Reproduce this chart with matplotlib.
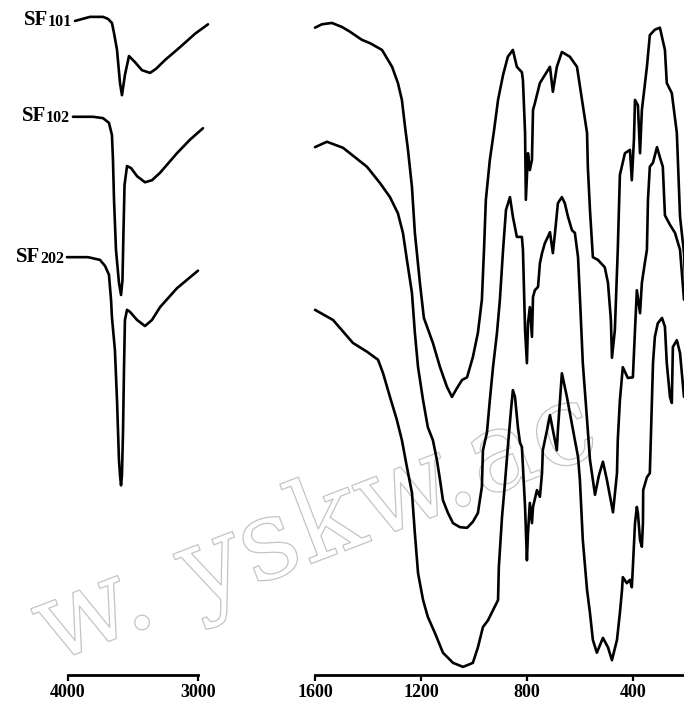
import matplotlib
matplotlib.use("Agg")
import matplotlib.pyplot as plt
import matplotlib.patheffects as pe

# ---------------- data: O-H stretching region (cm-1, transmittance %, offset) -------------
sf101_oh_wn = [3946, 3831, 3731, 3692, 3662, 3646, 3623, 3600, 3585, 3562, 3531, 3485, 3431,
               3369, 3323, 3254, 3139, 3023, 2923]
sf101_oh_t = [96.9, 97.5, 97.5, 97.2, 96.6, 95.1, 92.6, 87.7, 85.9, 88.9, 91.7, 90.8, 89.6,
              89.2, 89.8, 91.1, 93.0, 95.0, 96.4]

sf102_oh_wn = [3962, 3808, 3731, 3685, 3662, 3654, 3646, 3631, 3608, 3592, 3581, 3573, 3565,
               3546, 3515, 3469, 3408, 3354, 3292, 3162, 3062, 2962]
sf102_oh_t = [82.7, 82.7, 82.5, 81.8, 80.0, 76.3, 70.4, 63.0, 58.1, 56.3, 58.5, 65.9, 72.6,
              75.4, 75.1, 73.9, 73.0, 73.3, 74.4, 77.3, 79.3, 81.0]

sf202_oh_wn = [4008, 3846, 3754, 3715, 3685, 3669, 3662, 3639, 3623, 3608, 3600, 3592, 3585,
               3577, 3569, 3562, 3546, 3523, 3469, 3408, 3354, 3292, 3162, 3000]
sf202_oh_t = [61.9, 61.9, 61.5, 60.6, 59.3, 55.6, 53.0, 48.1, 40.7, 31.9, 29.6, 28.1, 29.6,
              35.9, 45.6, 52.6, 54.1, 53.8, 52.6, 51.7, 52.6, 54.5, 57.3, 59.9]

# ---------------- data: 1600-200 cm-1 region ----------------
sf101_wn = [1600, 1574, 1536, 1498, 1468, 1423, 1392, 1347, 1309, 1287,
            1272, 1260, 1249, 1234, 1223, 1204, 1189, 1177, 1155, 1128,
            1102, 1083, 1064, 1045, 1026, 1004, 985, 970, 962, 955,
            940, 924, 909, 890, 872, 853, 838, 819, 815, 807,
            804, 796, 789, 781, 777, 770, 751, 713, 702, 687,
            668, 638, 611, 592, 573, 570, 562, 551, 532, 506,
            494, 483, 479, 468, 457, 449, 430, 411, 404, 396,
            392, 381, 373, 366, 347, 336, 317, 298, 279, 272,
            253, 234, 222, 207, 200]
sf101_t = [95.9, 96.4, 96.6, 96.0, 95.3, 94.1, 93.6, 92.6, 90.1, 87.7,
           85.2, 81.2, 77.8, 72.3, 65.5, 58.1, 52.9, 51.6, 49.2, 45.6,
           42.7, 41.2, 42.5, 43.7, 44.1, 47.1, 50.7, 55.6, 63.0, 70.4,
           76.3, 80.7, 85.2, 88.9, 91.6, 92.6, 90.1, 89.3, 88.1, 80.3,
           70.4, 77.3, 74.8, 76.3, 83.7, 84.7, 87.7, 90.1, 86.4, 90.1,
           92.3, 91.6, 90.1, 85.2, 80.3, 75.3, 68.9, 61.9, 61.5, 60.4,
           58.1, 52.6, 47.0, 51.1, 63.0, 74.1, 77.3, 77.8, 73.3, 79.3,
           85.2, 84.4, 77.3, 83.7, 90.1, 94.8, 95.6, 95.9, 92.6, 87.7,
           86.2, 80.3, 67.9, 62.5, 55.6]

sf102_wn = [1600, 1555, 1494, 1449, 1404, 1355, 1317, 1287, 1268, 1253,
            1234, 1223, 1211, 1192, 1174, 1155, 1140, 1128, 1117, 1098,
            1079, 1053, 1026, 1004, 985, 970, 966, 951, 940, 928,
            913, 902, 890, 879, 864, 853, 838, 819, 815, 807,
            800, 796, 789, 781, 777, 770, 758, 751, 743, 732,
            721, 713, 702, 694, 683, 668, 657, 645, 630, 619,
            607, 600, 589, 573, 562, 543, 528, 513, 498, 475,
            460, 457, 449, 438, 419, 400, 392, 385, 373, 366,
            355, 347, 343, 336, 324, 309, 298, 287, 279, 260,
            241, 222, 207]
sf102_t = [78.2, 79.0, 78.1, 76.7, 75.3, 72.9, 70.8, 68.4, 65.5, 61.5,
           56.6, 50.7, 45.6, 40.7, 36.7, 34.8, 31.9, 28.9, 25.9, 24.0,
           22.5, 21.9, 21.8, 22.7, 24.0, 27.9, 33.3, 35.9, 40.7, 45.6,
           50.7, 55.6, 63.0, 68.9, 70.8, 67.9, 64.9, 64.9, 63.0, 51.1,
           46.2, 52.1, 54.5, 50.1, 56.0, 57.0, 57.5, 61.0, 62.5, 64.0,
           64.9, 65.6, 62.5, 65.5, 69.9, 70.8, 69.9, 67.9, 65.9, 65.5,
           61.9, 56.0, 46.2, 37.8, 31.9, 26.7, 29.6, 31.6, 28.9, 24.1,
           29.9, 34.8, 40.7, 45.6, 44.0, 44.1, 51.1, 57.0, 53.6, 58.1,
           61.0, 63.0, 70.4, 75.3, 75.9, 78.2, 76.7, 75.3, 68.1, 66.7,
           65.5, 63.0, 55.6]

sf202_wn = [1600, 1532, 1457, 1404, 1362, 1343, 1317, 1291, 1272, 1253,
            1234, 1223, 1211, 1192, 1174, 1147, 1117, 1079, 1041, 1004,
            985, 966, 947, 928, 909, 906, 894, 883, 872, 860,
            853, 845, 834, 826, 819, 807, 800, 796, 789, 781,
            777, 762, 751, 743, 740, 724, 713, 702, 687, 683,
            668, 649, 626, 607, 600, 589, 573, 562, 551, 536,
            513, 494, 479, 460, 449, 441, 438, 423, 411, 404,
            400, 392, 385, 381, 373, 366, 362, 361, 347, 336,
            324, 317, 306, 290, 279, 272, 260, 253, 249, 234,
            222, 207]
sf202_t = [54.1, 52.6, 49.2, 47.9, 46.7, 44.7, 41.2, 37.8, 34.8, 30.8,
           27.0, 21.0, 15.1, 11.1, 8.6, 6.2, 3.3, 1.8, 1.2, 1.8,
           4.1, 7.1, 8.1, 9.6, 11.1, 16.0, 23.4, 28.4, 33.8, 39.3,
           42.2, 41.2, 36.7, 34.4, 33.8, 24.9, 17.0, 21.0, 25.5, 22.5,
           24.9, 27.4, 26.4, 29.9, 33.3, 36.3, 38.5, 36.3, 33.3, 36.3,
           44.7, 41.2, 36.3, 32.3, 28.9, 20.0, 12.6, 9.2, 5.2, 3.3,
           5.5, 4.1, 2.2, 5.2, 9.2, 12.6, 14.5, 13.6, 14.1, 13.0,
           16.0, 22.5, 24.9, 24.0, 20.0, 19.0, 22.5, 27.4, 29.3, 29.9,
           46.2, 50.1, 52.1, 52.9, 51.6, 46.2, 41.2, 40.3, 48.6, 49.6,
           47.7, 41.2]

sample_numbers = ["101", "102", "202"]
left_ticks = [4000, 3000]
right_ticks = [1600, 1200, 800, 400]
watermark = "w. yskw.ac"

# ---------------- layout ----------------
W, H = 684, 704
fig = plt.figure(figsize=(W / 100, H / 100), dpi=100)
fig.patch.set_facecolor("white")


def rect(x0, x1, ybot=675):
    return [x0 / W, (H - ybot) / H, (x1 - x0) / W, ybot / H]


ax_l = fig.add_axes(rect(68, 198))
ax_r = fig.add_axes(rect(315, 684))
ax_l.set_xlim(4000, 3000)
ax_r.set_xlim(1600, 207)

serif = "Liberation Serif"
for ax, ticks in [(ax_l, left_ticks), (ax_r, right_ticks)]:
    ax.set_ylim(0, 100)
    ax.patch.set_visible(False)
    for s in ["left", "right", "top"]:
        ax.spines[s].set_visible(False)
    ax.spines["bottom"].set_linewidth(2.0)
    ax.set_yticks([])
    ax.set_xticks(ticks)
    ax.set_xticklabels([str(t) for t in ticks])
    ax.tick_params(axis="x", direction="out", length=4, width=1.6, pad=2.5,
                   labelsize=13)
    for lab in ax.get_xticklabels():
        lab.set_fontfamily(serif)
        lab.set_fontweight("bold")

line_kw = dict(color="black", lw=1.9, clip_on=False,
               solid_joinstyle="round", solid_capstyle="round", zorder=3)

for wn, t in [(sf101_oh_wn, sf101_oh_t), (sf102_oh_wn, sf102_oh_t), (sf202_oh_wn, sf202_oh_t)]:
    ax_l.plot(wn, t, **line_kw)
for wn, t in [(sf101_wn, sf101_t), (sf102_wn, sf102_t), (sf202_wn, sf202_t)]:
    ax_r.plot(wn, t, **line_kw)

# sample labels "SF" + number
for num, wn, t in zip(sample_numbers,
                      [sf101_oh_wn, sf102_oh_wn, sf202_oh_wn],
                      [sf101_oh_t, sf102_oh_t, sf202_oh_t]):
    d = ax_l.annotate(num, xy=(wn[0], t[0]), xytext=(-2.0, -4.0),
                      textcoords="offset points", ha="right", va="baseline",
                      fontsize=11.5, fontfamily=serif, fontweight="bold",
                      annotation_clip=False)
    ax_l.annotate("SF", xy=(0, 0), xycoords=d, ha="right", va="bottom",
                  fontsize=15, fontfamily=serif, fontweight="bold",
                  annotation_clip=False)

# faint outlined watermark
fig.text(50 / W, 1 - 664 / H, watermark, rotation=21, rotation_mode="anchor",
         fontsize=81, fontfamily="DejaVu Serif", color=(1, 1, 1, 0),
         ha="left", va="baseline", zorder=-5,
         path_effects=[pe.Stroke(linewidth=0.9, foreground="#c4c4c4")])

fig.savefig("out.png", dpi=100, facecolor="white")
